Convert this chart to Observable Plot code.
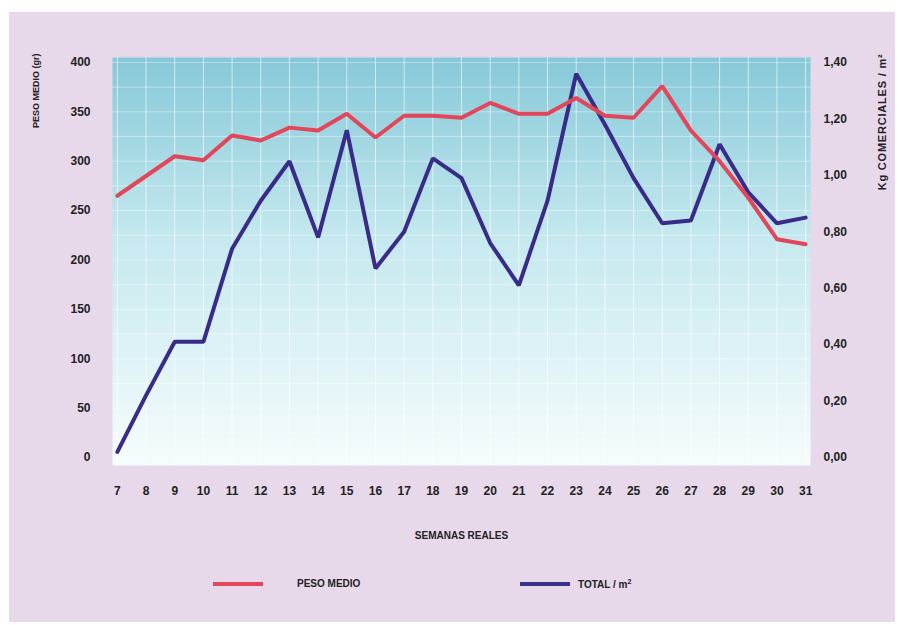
<!DOCTYPE html>
<html><head><meta charset="utf-8">
<script src="https://cdn.jsdelivr.net/npm/d3@7"></script>
<script src="https://cdn.jsdelivr.net/npm/@observablehq/plot@0.6"></script>
<style>
html,body{margin:0;padding:0;background:#fff;}
#panel{position:absolute;left:9px;top:12px;width:886px;height:610px;background:#e7d8ea;font-family:"Liberation Sans",Arial,sans-serif;}
#chart{position:absolute;left:0;top:0;}
.lg{position:absolute;font-size:10px;font-weight:bold;color:#222;}
.sw{position:absolute;height:4px;width:50px;}
.rlabel text{letter-spacing:0.8px;}
</style></head><body>
<div id="panel"><div id="chart"></div>
<div class="sw" style="left:204px;top:570px;background:#e2465a"></div>
<div class="lg" style="left:288px;top:566px;">PESO MEDIO</div>
<div class="sw" style="left:511px;top:570px;background:#3b2f8a"></div>
<div class="lg" style="left:569px;top:566px;">TOTAL / m<sup style="font-size:7px">2</sup></div>
</div>
<script>
const weeks = [7,8,9,10,11,12,13,14,15,16,17,18,19,20,21,22,23,24,25,26,27,28,29,30,31];
const pesoMedio = [265,285,305,301,326,321,334,331,348,324,346,346,344,359,348,348,364,346,344,376,331,300,263,221,216];
const totalM2 = [0.02,0.22,0.41,0.41,0.74,0.91,1.05,0.78,1.16,0.67,0.80,1.06,0.99,0.76,0.61,0.91,1.36,1.18,0.99,0.83,0.84,1.11,0.94,0.83,0.85];
const leftTicks = [0,50,100,150,200,250,300,350,400];
const rightTicks = [0,0.2,0.4,0.6,0.8,1.0,1.2,1.4];
const leftMax = 400, rightMax = 1.4;

const peso = weeks.map((w,i)=>({w, v: pesoMedio[i]}));
const total = weeks.map((w,i)=>({w, v: totalM2[i]}));
const toLeft = v => v*leftMax/rightMax;

const font = "'Liberation Sans Narrow','Liberation Sans',Arial,sans-serif";
const chart = Plot.plot({
  width: 886, height: 548,
  marginLeft: 103, marginTop: 45, marginRight: 85, marginBottom: 95,
  style: {background: "transparent", fontFamily: font, fontSize: "12px", fontWeight: "bold", color: "#222"},
  x: {domain: [6.83, 31.17], axis: null},
  y: {domain: [-8.1, 405], axis: null},
  marks: [
    Plot.frame({fill: "url(#bgGrad)", stroke: "none"}),
    Plot.ruleY(d3.range(0, 405, 25), {stroke: "white", strokeOpacity: 0.4}),
    Plot.ruleX(weeks, {stroke: "white", strokeOpacity: 0.6}),
    Plot.axisX(weeks, {tickSize: 0, tickPadding: 21, fontSize: 12, fontWeight: "bold", tickFormat: d => String(d), label: null}),
    Plot.axisY(leftTicks, {anchor: "left", tickSize: 0, tickPadding: 22, fontSize: 12, label: null}),
    Plot.axisY(rightTicks.map(toLeft), {anchor: "right", tickSize: 0, tickPadding: 13, fontSize: 12, label: null,
      tickFormat: d => (d*rightMax/leftMax).toFixed(2).replace(".", ",")}),
    Plot.text(["SEMANAS REALES"], {frameAnchor: "bottom", dy: 73, fontSize: 10, fontWeight: "bold", fill: "#222"}),
    Plot.text(["PESO MEDIO (gr)"], {frameAnchor: "top-left", dx: -80, dy: -4, rotate: -90, textAnchor: "end", fontSize: 9, fontWeight: "bold", fill: "#222"}),
    Plot.text(["Kg COMERCIALES / m²"], {frameAnchor: "top-right", dx: 68, dy: -4, rotate: -90, textAnchor: "end", fontSize: 11, fontWeight: "bold", fill: "#222", className: "rlabel"}),
    Plot.line(total, {x: "w", y: d => toLeft(d.v), stroke: "#382c88", strokeWidth: 4, strokeLinejoin: "miter"}),
    Plot.line(peso, {x: "w", y: "v", stroke: "#e2465a", strokeWidth: 4, strokeLinejoin: "miter"})
  ]
});
const svg = d3.select(chart);
const defs = svg.insert("defs", ":first-child");
const g = defs.append("linearGradient").attr("id", "bgGrad").attr("x1", 0).attr("y1", 0).attr("x2", 0).attr("y2", 1);
g.append("stop").attr("offset", "0%").attr("stop-color", "#86c8d8");
g.append("stop").attr("offset", "45%").attr("stop-color", "#c6e9ef");
g.append("stop").attr("offset", "100%").attr("stop-color", "#f6fcfd");
document.getElementById("chart").appendChild(chart);
</script>
</body></html>
